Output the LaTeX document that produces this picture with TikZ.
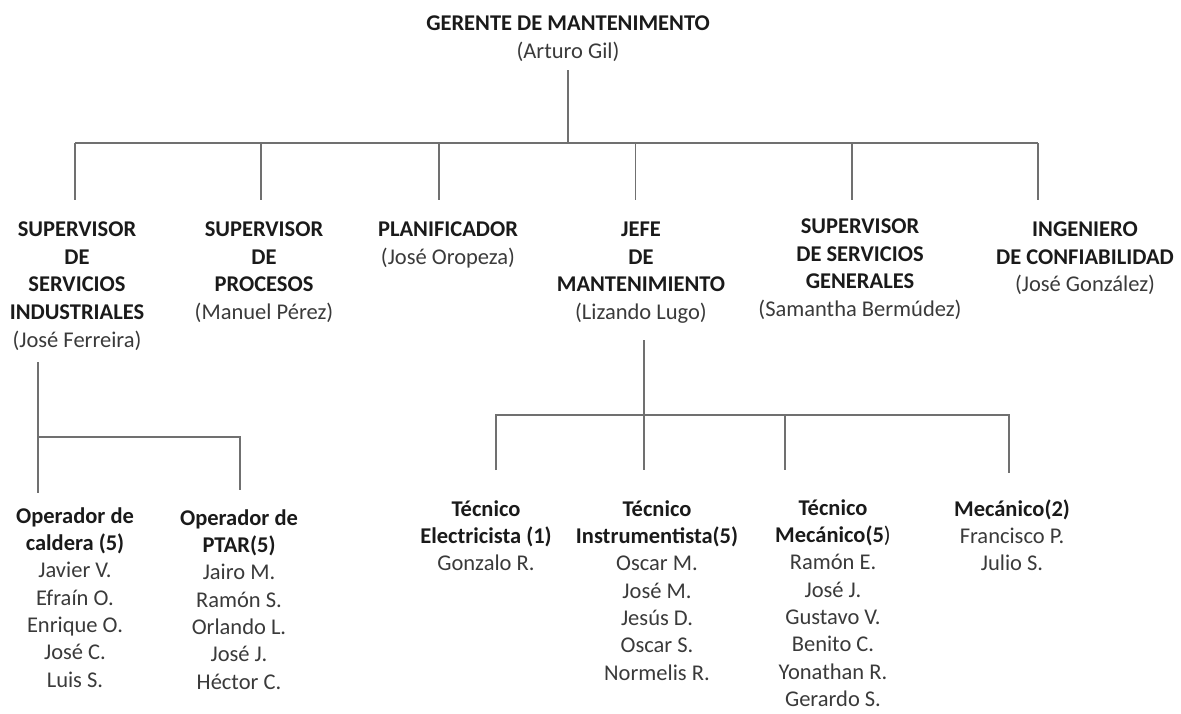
\documentclass[tikz,border=0pt]{standalone}
\usepackage{fontspec}
\setmainfont{Carlito}
\definecolor{linegray}{HTML}{707070}
\definecolor{txt}{HTML}{1A1A1A}
\definecolor{nametxt}{HTML}{3A3A3A}
\newcommand{\nm}{\mdseries\color{nametxt}}
\tikzset{
  lbl/.style={align=center, inner sep=0pt, anchor=north, text=txt,
    font=\fontsize{22.5}{27.7}\selectfont\bfseries},
  lbltwo/.style={lbl, font=\fontsize{22.5}{27.3}\selectfont\bfseries},
  conn/.style={draw=linegray, line width=1.3pt},
}
\begin{document}
\begin{tikzpicture}[x=1pt,y=-1pt]
\useasboundingbox (0,0) rectangle (1181,713);
% top
\node[lbl] (root) at (568,11) {\strut GERENTE DE MANTENIMENTO\\\nm (Arturo Gil)};
% level 2
\node[lbl] (s1) at (77,217) {\strut SUPERVISOR\\DE\\SERVICIOS\\INDUSTRIALES\\\nm (José Ferreira)};
\node[lbl] (s2) at (264,217) {\strut SUPERVISOR\\DE\\PROCESOS\\\nm (Manuel Pérez)};
\node[lbl] (s3) at (448,217) {\strut PLANIFICADOR\\\nm (José Oropeza)};
\node[lbl] (s4) at (641,217) {\strut JEFE\\DE\\MANTENIMIENTO\\\nm (Lizando Lugo)};
\node[lbl] (s5) at (860,214) {\strut SUPERVISOR\\DE SERVICIOS\\GENERALES\\\nm (Samantha Bermúdez)};
\node[lbl] (s6) at (1085,217) {\strut INGENIERO\\DE CONFIABILIDAD\\\nm (José González)};
% level 3
\node[lbltwo] (o1) at (75,504) {\strut Operador de\\caldera (5)\\\nm Javier V.\\\nm Efraín O.\\\nm Enrique O.\\\nm José C.\\\nm Luis S.};
\node[lbltwo] (o2) at (239,506) {\strut Operador de\\PTAR(5)\\\nm Jairo M.\\\nm Ramón S.\\\nm Orlando L.\\\nm José J.\\\nm Héctor C.};
\node[lbltwo] (t1) at (486,497) {\strut Técnico\\Electricista (1)\\\nm Gonzalo R.};
\node[lbltwo] (t2) at (657,497) {\strut Técnico\\Instrumentista(5)\\\nm Oscar M.\\\nm José M.\\\nm Jesús D.\\\nm Oscar S.\\\nm Normelis R.};
\node[lbltwo] (t3) at (833,496) {\strut Técnico\\Mecánico(5\mdseries)\\\nm Ramón E.\\\nm José J.\\\nm Gustavo V.\\\nm Benito C.\\\nm Yonathan R.\\\nm Gerardo S.};
\node[lbltwo] (t4) at (1012,497) {\strut Mecánico(2)\\\nm Francisco P.\\\nm Julio S.};
% connector coordinates
\coordinate (rtop) at (0,70);
\coordinate (bus) at (0,143);
\coordinate (d1) at (75,200);
\coordinate (d2) at (261,200);
\coordinate (d3) at (439,200);
\coordinate (d4) at (635.5,200);
\coordinate (d5) at (852,200);
\coordinate (d6) at (1038,200);
\draw[conn] (root.south |- rtop) -- (root.south |- bus);
\draw[conn] (d1 |- bus) -- (d6 |- bus);
\foreach \i in {1,...,6} \draw[conn] (d\i |- bus) -- (d\i);
% left subtree
\coordinate (L0) at (38,362);
\coordinate (L1) at (38,493);
\coordinate (Lbus) at (0,437);
\coordinate (L2) at (240,490);
\draw[conn] (L0) -- (L1);
\draw[conn] (L0 |- Lbus) -- (L2 |- Lbus) -- (L2);
% jefe subtree
\coordinate (J0) at (644,340);
\coordinate (J1) at (644,470);
\coordinate (Jbus) at (0,415);
\coordinate (e1) at (496,470);
\coordinate (e3) at (785,470);
\coordinate (e4) at (1009,473);
\draw[conn] (J0) -- (J1);
\draw[conn] (e1) -- (e1 |- Jbus) -- (e4 |- Jbus) -- (e4);
\draw[conn] (e3 |- Jbus) -- (e3);
\end{tikzpicture}
\end{document}
